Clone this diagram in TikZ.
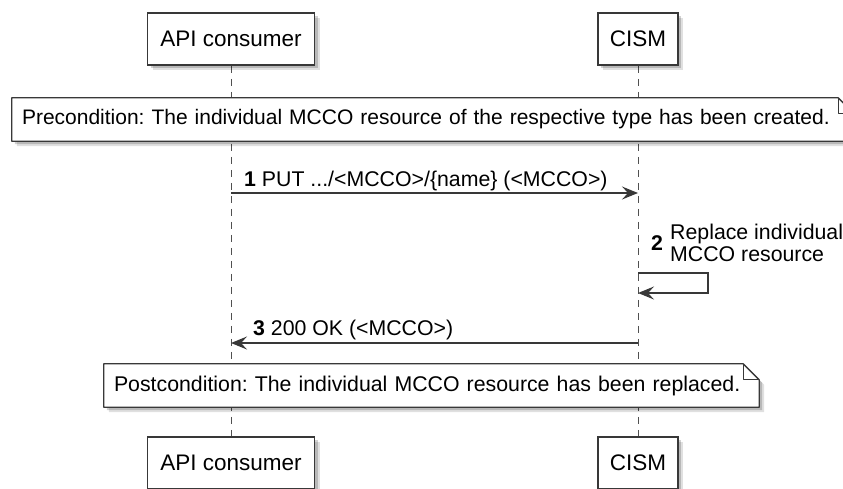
\documentclass[tikz,border=0pt]{standalone}
\usepackage{fontspec}
\setmainfont{Liberation Sans}
\usetikzlibrary{arrows.meta,positioning,calc,shadows,backgrounds}

\definecolor{linegray}{RGB}{56,56,56}
\definecolor{lifegray}{RGB}{80,80,80}

% note outline with folded corner, drawn behind the note text
\newcommand{\notefold}{16}
\newcommand{\drawnote}[1]{%
  \foreach \off/\op in {5/0.12,3/0.18} {
    \fill[black,opacity=\op] ($(#1.north west)+(\off,\off)$) -- ($(#1.north east)+(\off-\notefold,\off)$)
      -- ($(#1.north east)+(\off,\off+\notefold)$) -- ($(#1.south east)+(\off,\off)$) -- ($(#1.south west)+(\off,\off)$) -- cycle;
  }
  \draw[linegray,line width=1.3pt,fill=white,line join=round] (#1.north west) -- ($(#1.north east)+(-\notefold,0)$)
    -- ($(#1.north east)+(0,\notefold)$) -- (#1.south east) -- (#1.south west) -- cycle;
  \draw[linegray,line width=1.3pt,line join=round] ($(#1.north east)+(-\notefold,0)$) |- ($(#1.north east)+(0,\notefold)$);
}

\begin{document}
\begin{tikzpicture}[x=1pt,y=-1pt,
    participant/.style={draw=linegray,line width=1.5pt,fill=white,minimum height=52pt,inner sep=0pt,
      font=\fontsize{22.5}{27}\selectfont,
      drop shadow={shadow xshift=5pt,shadow yshift=-5pt,fill=black,opacity=0.12},
      drop shadow={shadow xshift=3pt,shadow yshift=-3pt,fill=black,opacity=0.18}},
    notetext/.style={text width=#1,align=left,inner xsep=10pt,inner ysep=0pt,minimum height=43pt,
      font=\fontsize{21.3}{25}\selectfont,execute at begin node=\frenchspacing},
    msglabel/.style={inner sep=0pt,font=\fontsize{21.3}{25}\selectfont},
    msg/.style={draw=linegray,line width=1.3pt,-{Stealth[length=16pt,width=13pt,inset=6pt]}},
    lifeline/.style={draw=lifegray,line width=1pt,dash pattern=on 7pt off 6pt}]
    \clip (0,0) rectangle (843,488);

    % Participants
    \node[participant,minimum width=167pt] (api) at (231,39) {API consumer};
    \node[participant,minimum width=80pt] (cism) at (638,39) {CISM};
    \node[participant,minimum width=167pt] (apibot) at (231,463) {API consumer};
    \node[participant,minimum width=80pt] (cismbot) at (638,463) {CISM};

    % Notes
    \node[notetext=822pt,font=\fontsize{21}{25}\selectfont] (pre) at (433,119.5) {\mbox{Precondition: The individual MCCO resource of the respective type has been created.}};
    \node[notetext=635pt] (post) at (431.5,385.5) {\mbox{Postcondition: The individual MCCO resource has been replaced.}};

    % Lifelines and note shapes
    \begin{scope}[on background layer]
        \draw[lifeline] (api) -- (apibot);
        \draw[lifeline] (cism) -- (cismbot);
        \drawnote{pre}
        \drawnote{post}
    \end{scope}

    % Message ends
    \coordinate (put-a) at (api |- 0,193);
    \coordinate (put-c) at (cism |- 0,193);
    \coordinate (rep-s) at (cism |- 0,273);
    \coordinate (rep-e) at (cism |- 0,293);
    \coordinate (ok-c) at (cism |- 0,343);
    \coordinate (ok-a) at (api |- 0,343);

    % Messages
    \draw[msg] (put-a) -- (put-c);
    \node[msglabel,anchor=base west] (putlbl) at (244,186) {\textbf{1} PUT .../<MCCO>/\{name\} (<MCCO>)};

    \draw[msg] (rep-s) -- ++(70,0) |- (rep-e);
    \node[msglabel,anchor=base west] (repnum) at (651,250.5) {\textbf{2}};
    \node[msglabel,anchor=base west] (replbl) at (670,239.5) {Replace individual};
    \node[msglabel,anchor=base west] (replbl2) at (670,261.5) {MCCO resource};

    \draw[msg] (ok-c) -- (ok-a);
    \node[msglabel,anchor=base west] (oklbl) at (253,335) {\textbf{3} 200 OK (<MCCO>)};
\end{tikzpicture}
\end{document}
